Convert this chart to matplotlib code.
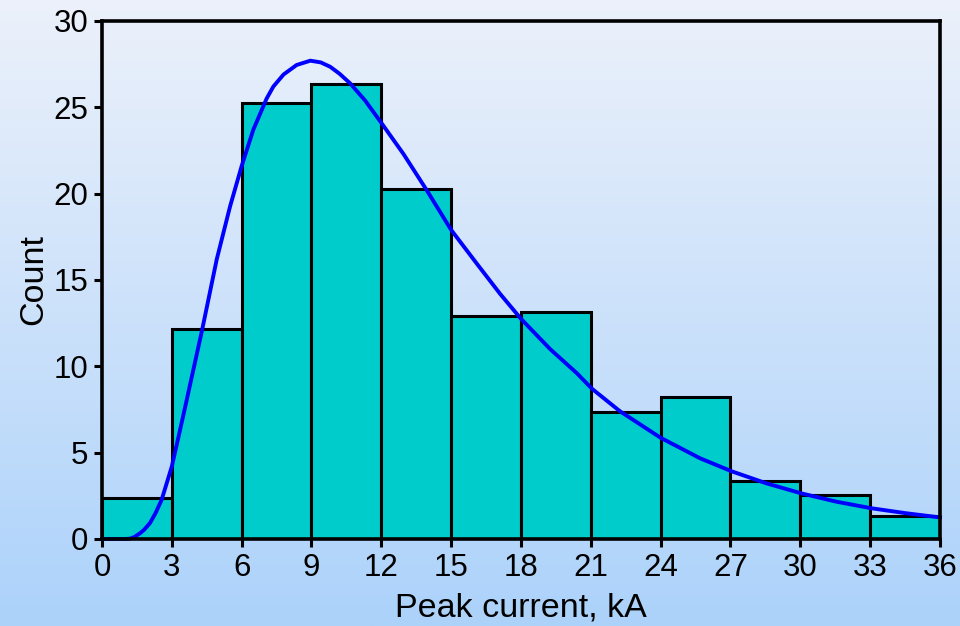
import numpy as np
import matplotlib
matplotlib.use('Agg')
import matplotlib.pyplot as plt

plt.rcParams['font.family'] = ['Liberation Sans', 'DejaVu Sans']

# histogram bins (kA) and counts
bin_edges = [0, 3, 6, 9, 12, 15, 18, 21, 24, 27, 30, 33, 36]
counts = [2.36, 12.16, 25.23, 26.33, 20.27, 12.9, 13.16, 7.37, 8.24, 3.36, 2.55, 1.33]

# fitted curve, points
curve_x = [0, 1.0, 1.2, 1.4, 1.63, 1.8, 2.06, 2.3, 2.56, 3.0, 3.5, 4.3, 4.93, 5.5,
           6.0, 6.5, 7.07, 7.36, 7.8, 8.36, 8.95, 9.4, 9.8, 10.2, 10.65, 11.3, 12.0,
           12.95, 13.95, 15.0, 16.1, 17.1, 18.0, 19.25, 20.4, 21.05, 22.25, 24.0,
           25.7, 27.05, 28.55, 30.05, 31.55, 33.05, 34.55, 36.0]
curve_y = [0, 0.0, 0.02, 0.12, 0.33, 0.52, 0.92, 1.5, 2.26, 4.2, 7.2, 12.1, 16.2,
           19.25, 21.6, 23.7, 25.5, 26.2, 26.9, 27.45, 27.7, 27.6, 27.35, 26.95,
           26.4, 25.4, 24.1, 22.3, 20.2, 17.9, 15.95, 14.2, 12.75, 11.0, 9.6, 8.7,
           7.4, 5.86, 4.67, 3.92, 3.22, 2.64, 2.16, 1.78, 1.49, 1.25]

xticks = list(range(0, 37, 3))
yticks = [0, 5, 10, 15, 20, 25, 30]

fig = plt.figure(figsize=(9.6, 6.26), dpi=100)

# gradient background over the whole figure
bg = fig.add_axes([0, 0, 1, 1], zorder=0)
top = np.array([236, 241, 251]) / 255
bottom = np.array([172, 210, 250]) / 255
t = np.linspace(0, 1, 256)[:, None]
grad = (top * (1 - t) + bottom * t)[:, None, :]
bg.imshow(grad, aspect='auto', extent=[0, 1, 0, 1])
bg.axis('off')

ax = fig.add_axes([0.10625, 0.139, 0.8729, 0.8275], zorder=1)
ax.patch.set_alpha(0)

ax.bar(bin_edges[:-1], counts, width=np.diff(bin_edges), align='edge',
       color='#00CCCC', edgecolor='black', linewidth=2.2, zorder=2)
ax.plot(curve_x, curve_y, color='#0000FF', linewidth=2.8, zorder=3,
        clip_on=False, solid_joinstyle='round')

ax.set_xlim(0, 36)
ax.set_ylim(0, 30)
ax.set_xticks(xticks)
ax.set_yticks(yticks)
ax.tick_params(labelsize=22.5, width=2.2, length=6, pad=4, color='black')
for s in ax.spines.values():
    s.set_linewidth(2.6)
    s.set_zorder(4)

ax.set_xlabel('Peak current, kA', fontsize=24.5, labelpad=7)
ax.set_ylabel('Count', fontsize=24.5, labelpad=3)

fig.savefig('out.png', dpi=100)
